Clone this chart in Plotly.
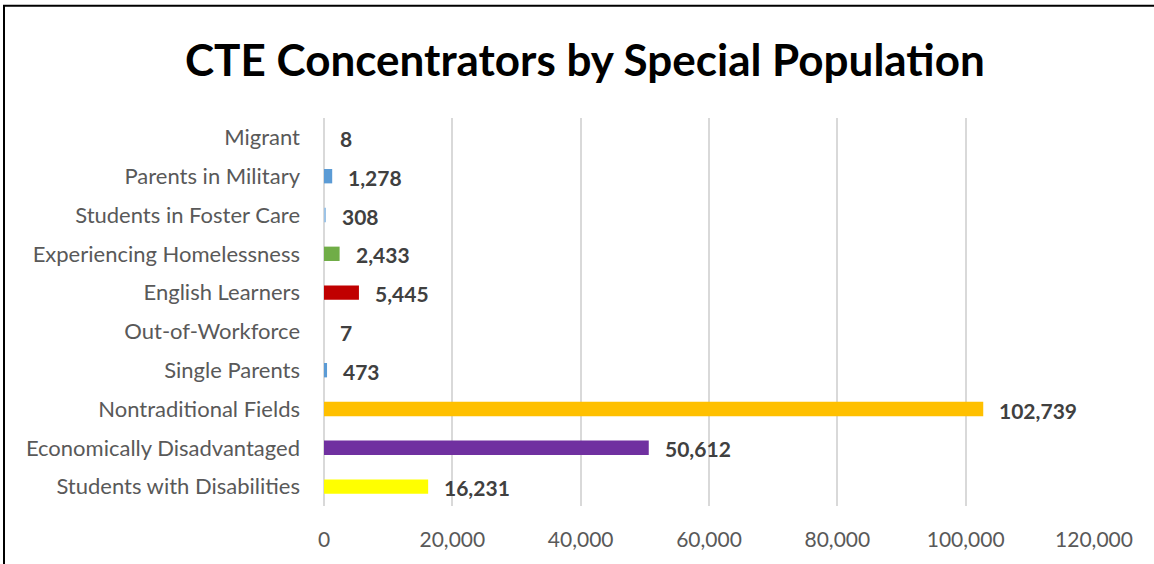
import plotly.graph_objects as go

categories = ["Students with Disabilities", "Economically Disadvantaged", "Nontraditional Fields",
              "Single Parents", "Out-of-Workforce", "English Learners", "Experiencing Homelessness",
              "Students in Foster Care", "Parents in Military", "Migrant"]
values = [16231, 50612, 102739, 473, 7, 5445, 2433, 308, 1278, 8]
colors = ["#FFFF00", "#7030A0", "#FFC000", "#5B9BD5", "rgba(0,0,0,0)", "#C00000", "#70AD47",
          "#9DC3E6", "#5B9BD5", "rgba(0,0,0,0)"]
tick_vals = [0, 20000, 40000, 60000, 80000, 100000, 120000]
tick_text = ["0", "20,000", "40,000", "60,000", "80,000", "100,000", "120,000"]

W, H = 1154, 564
L, R, T, B = 324, 60, 117.5, 57.5
pw, ph = W - L - R, H - T - B
FONT = "Lato, Carlito, sans-serif"

fig = go.Figure()
fig.add_trace(go.Bar(
    x=values, y=categories, orientation="h",
    marker=dict(color=colors, line=dict(width=0)),
    width=0.37, hoverinfo="x+y",
))

for v, c in zip(values, categories):
    fig.add_annotation(x=v, y=c, text=f"{v:,}", showarrow=False, xanchor="left",
                       xshift=14, yshift=-1,
                       font=dict(family=FONT, size=21, color="#404040", weight="bold"))

fig.add_annotation(xref="paper", yref="paper", x=(585 - L) / pw, y=(H - B - 58) / ph,
                   text="<b>CTE Concentrators by Special Population</b>", showarrow=False,
                   xanchor="center", yanchor="middle",
                   font=dict(family=FONT, size=44, color="#000000"))

# outer frame
fig.add_shape(type="rect", xref="paper", yref="paper",
              x0=(4 - L) / pw, x1=(W + 20 - L) / pw,
              y0=(H - B - (H + 20)) / ph, y1=(H - B - 5) / ph,
              line=dict(color="#000000", width=2), fillcolor="rgba(0,0,0,0)", layer="below")

fig.update_layout(
    width=W, height=H, margin=dict(l=L, r=R, t=T, b=B, pad=0),
    paper_bgcolor="white", plot_bgcolor="white", showlegend=False,
    font=dict(family=FONT, size=21, color="#595959"),
    xaxis=dict(range=[0, 120000], tickvals=tick_vals, ticktext=tick_text,
               showgrid=True, gridcolor="#D9D9D9", gridwidth=1.5, zeroline=True,
               zerolinecolor="#D9D9D9", zerolinewidth=2, showline=False,
               ticks="", ticklabelstandoff=19, tickfont=dict(size=21, color="#595959")),
    yaxis=dict(showgrid=False, showline=False, ticks="", ticklabelstandoff=23,
               tickfont=dict(size=22, color="#595959"), categoryorder="array",
               categoryarray=categories),
)

fig.write_html("out.html")
